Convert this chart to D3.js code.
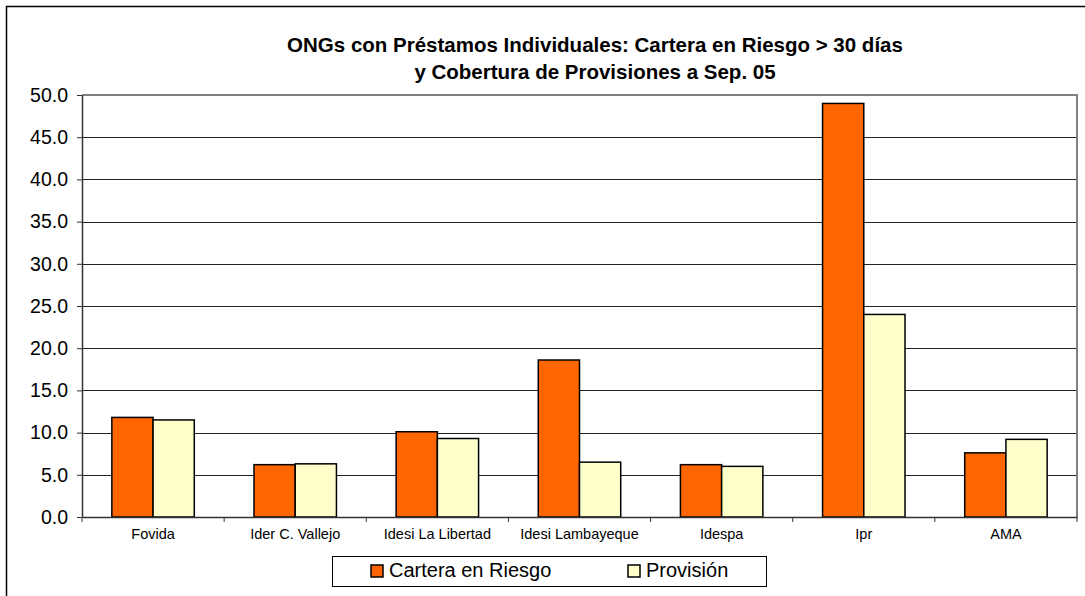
<!DOCTYPE html>
<html>
<head>
<meta charset="utf-8">
<script src="https://cdn.jsdelivr.net/npm/d3@7"></script>
<style>
  body { margin: 0; background: #fff; }
  svg { display: block; font-family: Arial, "Liberation Sans", sans-serif; }
</style>
</head>
<body>
<div id="chart"></div>
<script>
const categories = ['Fovida', 'Ider C. Vallejo', 'Idesi La Libertad', 'Idesi Lambayeque', 'Idespa', 'Ipr', 'AMA'];
const carteraValues = [11.8, 6.2, 10.1, 18.6, 6.2, 49.0, 7.6];
const provisionValues = [11.5, 6.3, 9.3, 6.5, 6.0, 24.0, 9.2];
const seriesNames = ['Cartera en Riesgo', 'Provisión'];
const yTicks = [0, 5, 10, 15, 20, 25, 30, 35, 40, 45, 50];
const titleLines = ['ONGs con Préstamos Individuales: Cartera en Riesgo > 30 días', 'y Cobertura de Provisiones a Sep. 05'];

const colors = ['#ff6600', '#ffffcc'];

const W = 1085, H = 596;
const margin = { top: 95, right: 8, bottom: 79, left: 82 },
  width = W - margin.left - margin.right,
  height = H - margin.top - margin.bottom;

const svg = d3.select('#chart').append('svg')
  .attr('width', W)
  .attr('height', H);

// outer chart border
svg.append('rect')
  .attr('x', 6.5).attr('y', 6.5)
  .attr('width', W + 10).attr('height', H + 10)
  .attr('fill', 'none').attr('stroke', '#000').attr('stroke-width', 1.5);

// title
svg.append('text')
  .attr('x', 595).attr('y', 52)
  .attr('text-anchor', 'middle')
  .style('font-size', '20.5px').style('font-weight', 'bold')
  .selectAll('tspan')
  .data(titleLines)
  .enter().append('tspan')
  .attr('x', 595)
  .attr('dy', (d, i) => i === 0 ? 0 : 27)
  .text(d => d);

const g = svg.append('g').attr('transform', `translate(${margin.left}, ${margin.top})`);

const x = d3.scaleBand().domain(categories).range([0, width]);
const y = d3.scaleLinear().domain([0, 50]).range([height, 0]);

// gridlines
g.append('g')
  .selectAll('line')
  .data(yTicks.filter(d => d > 0 && d < 50))
  .enter().append('line')
  .attr('x1', 0).attr('x2', width)
  .attr('y1', d => Math.round(y(d)) + 0.5).attr('y2', d => Math.round(y(d)) + 0.5)
  .attr('stroke', '#222').attr('stroke-width', 1);

// plot area top/right border
g.append('path')
  .attr('d', `M0,${y(50)}H${width}V${height}`)
  .attr('fill', 'none').attr('stroke', '#808080').attr('stroke-width', 2);

// bars
const barW = x.bandwidth() * 0.29;
const data = categories.map((c, i) => ({ cat: c, vals: [carteraValues[i], provisionValues[i]] }));

const groups = g.append('g').selectAll('g')
  .data(data)
  .enter().append('g')
  .attr('transform', d => `translate(${x(d.cat) + x.bandwidth() / 2 - barW}, 0)`);

groups.selectAll('rect')
  .data(d => d.vals)
  .enter().append('rect')
  .attr('x', (d, i) => i * barW)
  .attr('y', d => y(d))
  .attr('width', barW)
  .attr('height', d => height - y(d))
  .attr('fill', (d, i) => colors[i])
  .attr('stroke', '#000').attr('stroke-width', 1.5);

// y axis
const yAxis = g.append('g')
  .call(d3.axisLeft(y).tickValues(yTicks).tickFormat(d3.format('.1f')).tickSize(5).tickSizeOuter(0));
yAxis.select('.domain').attr('stroke', '#333').attr('stroke-width', 1.5);
yAxis.selectAll('.tick line').attr('stroke', '#333');
yAxis.selectAll('.tick text')
  .attr('x', -14)
  .style('font-size', '19.5px').style('font-family', 'Arial, "Liberation Sans", sans-serif')
  .attr('fill', '#000');

// x axis
const xAxis = g.append('g')
  .attr('transform', `translate(0, ${height})`)
  .call(d3.axisBottom(x).tickSize(0).tickSizeOuter(0));
xAxis.select('.domain').attr('stroke', '#333').attr('stroke-width', 1.5);
xAxis.selectAll('.tick text')
  .attr('dy', 0).attr('y', 22)
  .style('font-size', '14.5px').style('font-family', 'Arial, "Liberation Sans", sans-serif')
  .attr('fill', '#000');

// category separator ticks
g.append('g')
  .selectAll('line')
  .data(categories.concat(['end']))
  .enter().append('line')
  .attr('x1', (d, i) => i < categories.length ? x(d) : width)
  .attr('x2', (d, i) => i < categories.length ? x(d) : width)
  .attr('y1', height).attr('y2', height + 5)
  .attr('stroke', '#333').attr('stroke-width', 1);

// legend
const legend = svg.append('g').attr('transform', 'translate(332, 556)');
legend.append('rect')
  .attr('x', 0.5).attr('y', 0.5)
  .attr('width', 434).attr('height', 30)
  .attr('fill', '#fff').attr('stroke', '#000').attr('stroke-width', 1);

const legendX = [39, 296];
const items = legend.selectAll('g.item')
  .data(seriesNames)
  .enter().append('g')
  .attr('class', 'item')
  .attr('transform', (d, i) => `translate(${legendX[i]}, 0)`);

items.append('rect')
  .attr('x', 0).attr('y', 9)
  .attr('width', 12).attr('height', 12)
  .attr('fill', (d, i) => colors[i])
  .attr('stroke', '#000').attr('stroke-width', 1.5);

items.append('text')
  .attr('x', 18).attr('y', 21)
  .style('font-size', '20px')
  .text(d => d);
</script>
</body>
</html>
